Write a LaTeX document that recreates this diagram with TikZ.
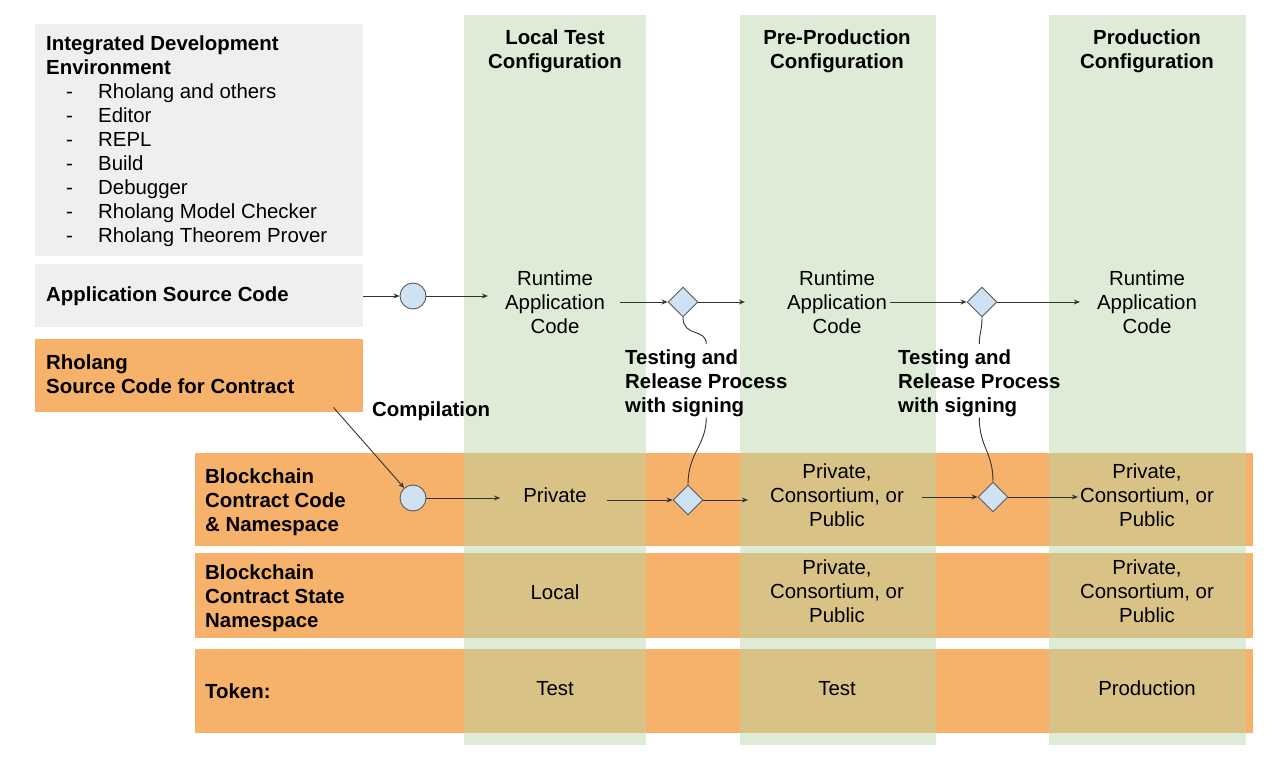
\documentclass[tikz,border=0pt]{standalone}
\usepackage{fontspec}
\setmainfont{Liberation Sans}
\usetikzlibrary{shapes.geometric,arrows.meta}
\definecolor{gbox}{HTML}{EFEFEF}
\definecolor{obox}{HTML}{F6B26B}
\definecolor{gcol}{HTML}{B6D7A8}
\definecolor{pfill}{HTML}{CFE2F3}
\definecolor{pline}{HTML}{595959}
\definecolor{lncol}{HTML}{333333}
\newcommand\ideitem[1]{\makebox[52pt][l]{\hspace*{20pt}-}#1}
\begin{document}
\begin{tikzpicture}[x=1pt,y=-1pt,
 every node/.style={font=\fontsize{20.4}{24}\selectfont, text=black, inner sep=0pt},
 hd/.style={font=\bfseries\fontsize{20.4}{24}\selectfont, align=center, anchor=north},
 lbl/.style={font=\bfseries\fontsize{20.4}{24}\selectfont, align=left, anchor=north west},
 cell/.style={align=center, anchor=north},
 bgbox/.style={anchor=north west, minimum width=#1},
 colbox/.style={anchor=north west, fill=gcol, fill opacity=0.45, minimum height=730pt},
 circ/.style={circle, draw=pline, fill=pfill, minimum size=26pt, line width=0.9pt},
 dia/.style={diamond, draw=pline, fill=pfill, minimum size=30pt, line width=0.9pt},
 conn/.style={draw=lncol, line width=0.9pt, -{Stealth[length=6pt,width=5pt]}},
 wire/.style={draw=lncol, line width=0.9pt},
]
\useasboundingbox[fill=white] (0,0) rectangle (1282,770);
% rows
\node[bgbox=1058pt, fill=obox, minimum height=93pt] (row1) at (195,453) {};
\node[bgbox=1058pt, fill=obox, minimum height=85pt] (row2) at (195,553) {};
\node[bgbox=1058pt, fill=obox, minimum height=84pt] (row3) at (195,649) {};
% columns
\node[colbox, minimum width=182pt] (col1) at (464,15) {};
\node[colbox, minimum width=196pt] (col2) at (740,15) {};
\node[colbox, minimum width=197pt] (col3) at (1049,15) {};
% left boxes
\node[bgbox=328pt, fill=gbox, minimum height=232pt] (ide) at (35,24) {};
\node[bgbox=328pt, fill=gbox, minimum height=63pt] (app) at (35,264) {};
\node[bgbox=328pt, fill=obox, minimum height=73pt] (rho) at (35,339) {};
% left texts
\node[align=left, anchor=north west] (idetxt) at (46,36) {\textbf{Integrated Development}\\\textbf{Environment}\\
\ideitem{Rholang and others}\\\ideitem{Editor}\\\ideitem{REPL}\\\ideitem{Build}\\\ideitem{Debugger}\\
\ideitem{Rholang Model Checker}\\\ideitem{Rholang Theorem Prover}};
\node[lbl, anchor=west] (apptxt) at (46,296) {Application Source Code};
\node[lbl] (rhotxt) at (46,355) {Rholang\\Source Code for Contract};
% headers
\node[hd] (h1) at (555,30) {Local Test\\Configuration};
\node[hd] (h2) at (837,30) {Pre-Production\\Configuration};
\node[hd] (h3) at (1147,30) {Production\\Configuration};
% runtime
\node[cell] (rt1) at (555,271) {Runtime\\Application\\Code};
\node[cell] (rt2) at (837,271) {Runtime\\Application\\Code};
\node[cell] (rt3) at (1147,271) {Runtime\\Application\\Code};
% process labels
\node[lbl] (test1) at (625,350) {Testing and\\Release Process\\with signing};
\node[lbl] (test2) at (898,350) {Testing and\\Release Process\\with signing};
\node[lbl] (comp) at (372,402) {Compilation};
% row labels
\node[lbl] (r1l) at (205,469) {Blockchain\\Contract Code\\\& Namespace};
\node[lbl] (r2l) at (205,565) {Blockchain\\Contract State\\Namespace};
\node[lbl] (r3l) at (205,684) {Token:};
% cells
\node[cell] (priv) at (555,488) {Private};
\node[cell] (pcp1) at (837,464) {Private,\\Consortium, or\\Public};
\node[cell] (pcp2) at (1147,464) {Private,\\Consortium, or\\Public};
\node[cell] (loc) at (555,585) {Local};
\node[cell] (pcp3) at (837,560) {Private,\\Consortium, or\\Public};
\node[cell] (pcp4) at (1147,560) {Private,\\Consortium, or\\Public};
\node[cell] (tok1) at (555,681) {Test};
\node[cell] (tok2) at (837,681) {Test};
\node[cell] (tok3) at (1147,681) {Production};
% process shapes
\node[circ] (circ1) at (413,296) {};
\node[circ] (circ2) at (413,498) {};
\node[dia] (dia1) at (683,302) {};
\node[dia] (dia2) at (982,302) {};
\node[dia] (dia3) at (688,500) {};
\node[dia] (dia4) at (993,497) {};
% connectors: application code
\draw[conn] (app.east |- circ1) -- (circ1.west);
\draw[conn, shorten >=17pt] (circ1.east) -- (circ1.east -| rt1.west);
\draw[conn, shorten <=15pt] (rt1.east |- dia1) -- (dia1.west);
\draw[conn, shorten >=42pt] (dia1.east) -- (dia1.east -| rt2.west);
\draw[conn, shorten <=3pt] (rt2.east |- dia2) -- (dia2.west);
\draw[conn, shorten >=17pt] (dia2.east) -- (dia2.east -| rt3.west);
% connectors: contract code
\draw[conn] ([xshift=-30pt,yshift=5pt]rho.south east) -- (circ2);
\draw[conn, shorten >=23pt] (circ2.east) -- (circ2.east -| priv.west);
\draw[conn, shorten <=20pt] (priv.east |- dia3) -- (dia3.west);
\draw[conn, shorten >=22pt] (dia3.east) -- (dia3.east -| pcp1.west);
\draw[conn, shorten <=18pt] (pcp1.east |- dia4) -- (dia4.west);
\draw[conn, shorten >=2pt] (dia4.east) -- (dia4.east -| pcp2.west);
% label wires
\draw[wire] (dia1.south) .. controls +(0,20) and +(0,-16) .. ([yshift=6pt]test1.north);
\draw[wire] (test1.south) .. controls +(0,28) and +(0,-32) .. (dia3.north);
\draw[wire] (dia2.south) .. controls +(0,14) and +(0,-12) .. ([yshift=6pt]test2.north);
\draw[wire] (test2.south) .. controls +(0,30) and +(0,-30) .. (dia4.north);
\end{tikzpicture}
\end{document}
